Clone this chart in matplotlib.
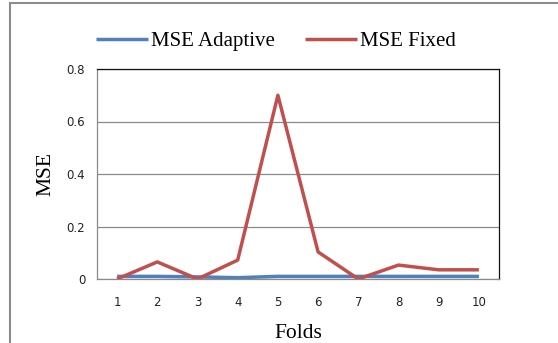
import matplotlib.pyplot as plt
from matplotlib.patches import Rectangle

folds = [1, 2, 3, 4, 5, 6, 7, 8, 9, 10]
mse_adaptive = [0.010, 0.010, 0.008, 0.005, 0.010, 0.010, 0.010, 0.010, 0.010, 0.010]
mse_fixed = [0.0, 0.065, 0.0, 0.072, 0.70, 0.103, 0.0, 0.053, 0.035, 0.035]
yticks = [0, 0.2, 0.4, 0.6, 0.8]
ytick_labels = ["0", "0.2", "0.4", "0.6", "0.8"]

fig = plt.figure(figsize=(5.58, 3.43), dpi=100)
W, H = 558, 343
ax = fig.add_axes([97 / W, 1 - 279 / H, (499 - 97) / W, (279 - 69) / H])

# outer chart border
fig.patches.append(Rectangle((10 / W, -0.05), 1.0, 1 - 3 / H + 0.05,
                             transform=fig.transFigure, fill=False,
                             edgecolor="#8c8c8c", linewidth=1.5))

ax.plot(folds, mse_adaptive, color="#4F81BD", linewidth=2.5, label="MSE Adaptive",
        solid_capstyle="butt")
ax.plot(folds, mse_fixed, color="#C0504D", linewidth=2.5, label="MSE Fixed",
        solid_capstyle="butt")

ax.set_xlim(0.5, 10.5)
ax.set_ylim(0, 0.8)
ax.set_yticks(yticks)
ax.set_yticklabels(ytick_labels)
ax.set_xticks(folds)
ax.grid(axis="y", color="#8a8a8a", linewidth=0.9)
ax.set_axisbelow(True)
ax.tick_params(length=0, labelsize=8.5, colors="#222222")
ax.tick_params(axis="x", pad=12)
ax.tick_params(axis="y", pad=8.5)

for side in ["left", "bottom"]:
    ax.spines[side].set_color("#8a8a8a")
for side in ["top", "right"]:
    ax.spines[side].set_color("#111111")
for s in ax.spines.values():
    s.set_linewidth(0.9)

serif = "Liberation Serif"
ax.set_xlabel("Folds", family=serif, fontsize=15.5, labelpad=11)
ax.set_ylabel("MSE", family=serif, fontsize=15.5, labelpad=8)

fig.legend(loc="center", bbox_to_anchor=(276 / W, 1 - 41 / H), ncol=2,
           frameon=False, prop={"family": serif, "size": 15},
           handlelength=2.5, handletextpad=0.15, columnspacing=1.45)

fig.savefig("out.png", dpi=100)
